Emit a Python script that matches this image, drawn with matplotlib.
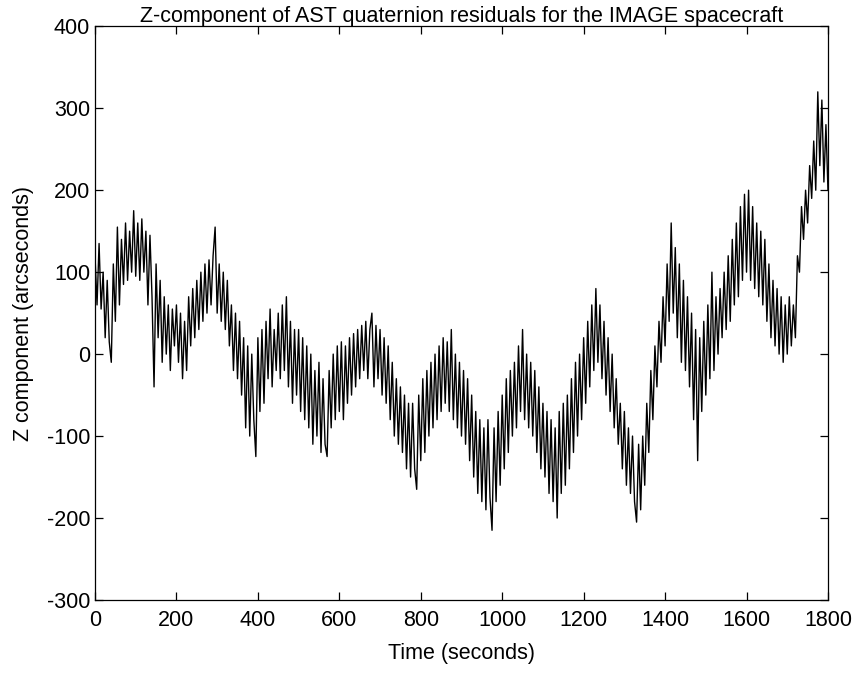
import numpy as np
import matplotlib
matplotlib.use("Agg")
import matplotlib.pyplot as plt

plt.rcParams['font.family'] = ['Liberation Sans', 'DejaVu Sans']
plt.rcParams['axes.unicode_minus'] = False

## residual samples, every 5 seconds (arcseconds)
t_step = 5
z_resid = [
    120, 60, 135, 55, 100, 20, 90, 15, -10, 110, 40, 155, 60, 140, 85, 160, 90, 150, 100, 175,
    95, 160, 90, 165, 100, 150, 60, 145, 70, -40, 110, 20, 90, -10, 70, 0, 60, -20, 55, 10,
    60, -10, 50, -30, 40, -20, 70, 10, 80, 20, 90, 30, 100, 40, 110, 50, 115, 60, 120, 155,
    50, 110, 40, 100, 30, 90, 10, 60, -20, 50, -30, 40, -50, 20, -90, 10, -100, 0, -80, -125,
    20, -70, 30, -60, 40, -30, 55, -40, 30, -20, 50, -30, 60, -20, 70, -40, 40, -60, 30, -50,
    30, -70, 20, -80, 10, -90, 0, -110, -20, -100, -10, -120, -30, -110, -125, -20, -90, 0, -80, 10,
    -70, 15, -80, 10, -60, 20, -50, 25, -40, 30, -30, 35, -20, 40, -30, 30, 50, -40, 35, -30,
    30, -50, 20, -60, 10, -80, -10, -100, -30, -110, -40, -120, -50, -140, -60, -150, -60, -140, -165, -50,
    -130, -30, -120, -20, -100, -10, -90, 0, -80, 10, -70, 20, -60, 15, -70, 30, -80, 0, -90, -10,
    -100, -20, -110, -30, -130, -50, -150, -70, -170, -80, -180, -90, -190, -80, -175, -215, -90, -180, -70, -160,
    -50, -140, -30, -120, -20, -100, -10, -90, 10, -70, 30, -80, 0, -90, -10, -100, -20, -120, -40, -140,
    -60, -150, -70, -170, -80, -180, -90, -200, -70, -170, -60, -160, -50, -140, -30, -120, -10, -100, 0, -80,
    20, -60, 40, -40, 60, -20, 80, -10, 60, -30, 40, -50, 20, -70, 0, -90, -30, -110, -60, -140,
    -70, -160, -90, -170, -100, -180, -205, -110, -190, -100, -160, -60, -120, -20, -80, 10, -40, 40, -10, 70,
    10, 110, 40, 160, 50, 130, 20, 110, -10, 90, -20, 70, -40, 50, -80, 30, -130, 20, -70, 40,
    -50, 60, -30, 100, -20, 70, 0, 80, 20, 100, 30, 120, 40, 140, 60, 160, 70, 180, 90, 195,
    100, 200, 90, 180, 80, 160, 70, 150, 60, 140, 40, 110, 20, 90, 10, 80, 0, 70, -10, 60,
    0, 70, 10, 60, 20, 120, 100, 180, 140, 200, 160, 230, 190, 260, 200, 320, 230, 310, 210, 280,
    200,
]
time_s = np.arange(len(z_resid)) * t_step

fig = plt.figure(figsize=(8.52, 6.92), dpi=100)
ax = fig.add_axes([0.1115, 0.133, 0.8603, 0.829])
ax.plot(time_s, z_resid, color='black', lw=1.0)

ax.set_xlim(0, 1800)
ax.set_ylim(-300, 400)
ax.set_xticks(range(0, 1801, 200))
ax.set_yticks(range(-300, 401, 100))
ax.tick_params(direction='in', top=True, right=True, labelsize=15.5, length=6, width=0.9)
ax.tick_params(axis='x', pad=7)
for s in ax.spines.values():
    s.set_linewidth(0.9)

ax.set_title("Z-component of AST quaternion residuals for the IMAGE spacecraft", fontsize=15.5, pad=3)
ax.set_xlabel("Time (seconds)", fontsize=15.5, labelpad=9)
ax.set_ylabel("Z component (arcseconds)", fontsize=15.5, labelpad=9)

fig.savefig("out.png", dpi=100)
